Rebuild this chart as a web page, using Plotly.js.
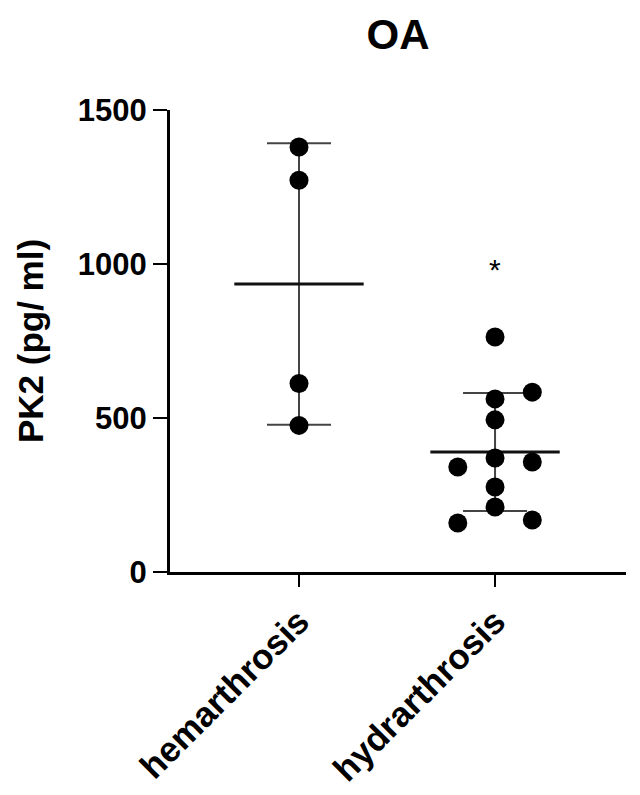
<!DOCTYPE html>
<html>
<head>
<meta charset="utf-8">
<script src="https://cdn.plot.ly/plotly-3.0.1.min.js"></script>
<style>
  body { margin: 0; background: #fff; }
  #graph { width: 640px; height: 795px; }
</style>
</head>
<body>
<div id="graph"></div>
<script>
const groups = ['hemarthrosis', 'hydrarthrosis'];
const hemValues = [1380, 1272, 612, 476];
const hydValues = [763, 584, 562, 494, 341, 370, 357, 276, 211, 159, 169];
// swarm column of each point (-1 left, 0 centre, 1 right)
const hemCols = [0, 0, 0, 0];
const hydCols = [0, 1, 0, 0, -1, 0, 1, 0, 0, -1, 1];
const starValue = 1003;
const yTicks = [0, 500, 1000, 1500];

const FONT = 'Liberation Sans, Arial, sans-serif';
const colStep = 0.19;

function average(arr) {
    return arr.reduce((acc, v) => acc + v, 0) / arr.length;
}

function stdev(arr) {
    const m = average(arr);
    const ss = arr.reduce((acc, v) => acc + (v - m) ** 2, 0);
    return Math.sqrt(ss / (arr.length - 1));
}

function pointsTrace(values, cols, idx) {
    return {
        x: values.map((v, i) => idx + cols[i] * colStep),
        y: values,
        mode: 'markers',
        type: 'scatter',
        marker: { color: '#000', size: 19 },
        hoverinfo: 'y',
        showlegend: false
    };
}

function meanSdTrace(values, idx) {
    return {
        x: [idx],
        y: [average(values)],
        mode: 'markers',
        type: 'scatter',
        marker: { size: 1, color: 'rgba(0,0,0,0)' },
        error_y: { type: 'data', array: [stdev(values)], color: '#444', thickness: 2, width: 32 },
        error_x: { type: 'data', array: [0.33], color: '#111', thickness: 3, width: 0 },
        hoverinfo: 'skip',
        showlegend: false
    };
}

const traces = [
    meanSdTrace(hemValues, 0),
    meanSdTrace(hydValues, 1),
    pointsTrace(hemValues, hemCols, 0),
    pointsTrace(hydValues, hydCols, 1)
];

const layout = {
    width: 640,
    height: 795,
    margin: { l: 170, r: 14, t: 110, b: 223 },
    paper_bgcolor: '#fff',
    plot_bgcolor: '#fff',
    font: { family: FONT, color: '#000' },
    title: {
        text: '<b>OA</b>',
        font: { size: 42, family: FONT, color: '#000' },
        x: 0.5, xref: 'paper',
        y: 1 - 34 / 795, yref: 'container', yanchor: 'middle'
    },
    xaxis: {
        range: [-0.658, 1.668],
        tickvals: [0, 1],
        ticktext: groups.map(g => '<b>' + g + '</b>'),
        tickangle: -45,
        tickfont: { size: 35, family: FONT, color: '#000' },
        ticks: 'outside', ticklen: 12, tickwidth: 2.5, tickcolor: '#000',
        showline: true, linecolor: '#000', linewidth: 3,
        showgrid: false, zeroline: false
    },
    yaxis: {
        range: [0, 1500],
        tickvals: yTicks,
        ticktext: yTicks.map(t => '<b>' + t + '</b>'),
        tickfont: { size: 31, family: FONT, color: '#000' },
        ticks: 'outside', ticklen: 14, tickwidth: 2.5, tickcolor: '#000',
        showline: true, linecolor: '#000', linewidth: 3,
        showgrid: false, zeroline: false,
        title: { text: '<b>PK2 (pg/ ml)</b>', font: { size: 35, family: FONT, color: '#000' }, standoff: 24 }
    },
    annotations: [{
        x: 1, y: starValue, xref: 'x', yref: 'y',
        text: '*', showarrow: false,
        font: { size: 30, family: FONT, color: '#000' },
        yanchor: 'middle', yshift: -6
    }]
};

Plotly.newPlot('graph', traces, layout, { displayModeBar: false, staticPlot: true });
</script>
</body>
</html>
